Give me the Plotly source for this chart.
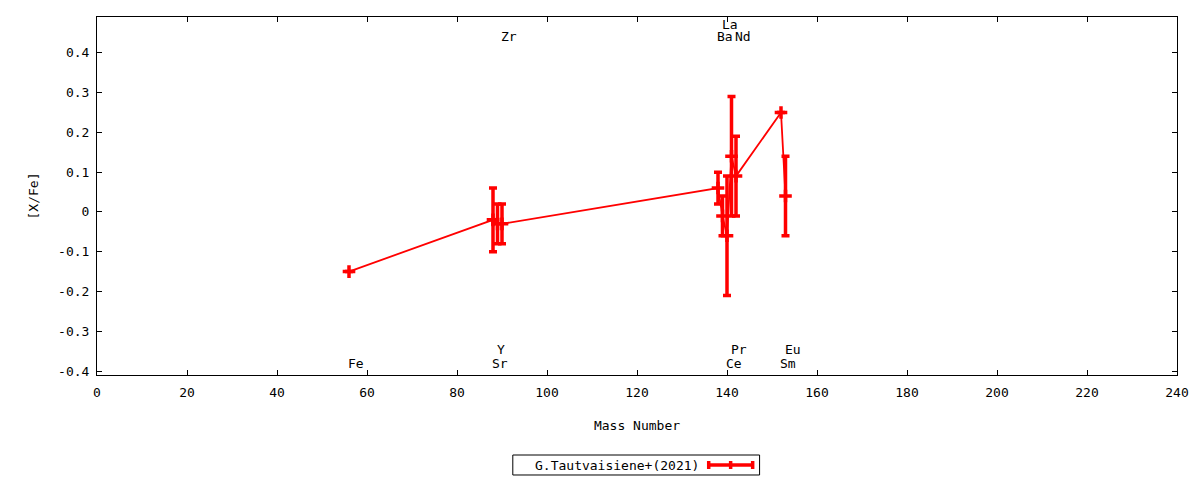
# Abundance ratios [X/Fe] against mass number, G.Tautvaisiene+(2021)

import plotly.graph_objects as go

# Data
elements = ["Fe", "Sr", "Y", "Zr", "Ba", "La", "Ce", "Pr", "Nd", "Sm", "Eu"]
mass_number = [56, 88, 89, 90, 138, 139, 140, 141, 142, 152, 153]
x_fe = [-0.15, -0.02, -0.03, -0.03, 0.06, -0.01, -0.06, 0.14, 0.09, 0.25, 0.04]
x_fe_err = [0.0, 0.08, 0.05, 0.05, 0.04, 0.05, 0.15, 0.15, 0.10, 0.0, 0.10]

# where each element name is written (in [X/Fe] units)
label_level = [-0.38, -0.38, -0.345, 0.44, 0.44, 0.47, -0.38, -0.345, 0.44, -0.38, -0.345]

x_ticks = [0, 20, 40, 60, 80, 100, 120, 140, 160, 180, 200, 220, 240]
y_ticks = [-0.4, -0.3, -0.2, -0.1, 0, 0.1, 0.2, 0.3, 0.4]
y_tick_labels = ["-0.4", "-0.3", "-0.2", "-0.1", "0", "0.1", "0.2", "0.3", "0.4"]

series_name = "G.Tautvaisiene+(2021)"

FONT = "DejaVu Sans Mono"
RED = "#ff0000"

fig = go.Figure()

fig.add_trace(
    go.Scatter(
        x=mass_number,
        y=x_fe,
        mode="lines+markers",
        line=dict(color=RED, width=1.8),
        marker=dict(symbol="cross-thin", size=9, color=RED, line=dict(color=RED, width=3.5)),
        error_y=dict(type="data", array=x_fe_err, visible=True, color=RED, thickness=3.5, width=4),
        name=series_name,
        showlegend=False,
    )
)

# element names, left-aligned at their mass number
for el, m, lv in zip(elements, mass_number, label_level):
    fig.add_annotation(
        x=m, y=lv, text=el, showarrow=False,
        xanchor="left", yanchor="middle", xshift=-3,
        font=dict(family=FONT, size=13, color="black"),
    )

# legend box drawn by hand: text on the left, sample on the right (gnuplot style)
fig.add_shape(type="rect", xref="paper", yref="paper",
              x0=0.3850, x1=0.6135, y0=-0.2793, y1=-0.2235,
              line=dict(color="black", width=1), fillcolor="white")
fig.add_annotation(xref="paper", yref="paper", x=0.5590, y=-0.2514,
                   text=series_name, showarrow=False, xanchor="right", yanchor="middle",
                   font=dict(family=FONT, size=13, color="black"))
fig.add_shape(type="line", xref="paper", yref="paper",
              x0=0.5664, x1=0.6071, y0=-0.2514, y1=-0.2514,
              line=dict(color=RED, width=3.5))
for xp in [0.5664, 0.5867, 0.6071]:
    fig.add_shape(type="line", xref="paper", yref="paper",
                  x0=xp, x1=xp, y0=-0.2625, y1=-0.2403,
                  line=dict(color=RED, width=3.5))

axis_common = dict(
    showline=True, linecolor="black", linewidth=1, mirror="ticks",
    ticks="inside", ticklen=5, tickcolor="black", tickwidth=1,
    showgrid=False, zeroline=False,
    tickfont=dict(family=FONT, size=13, color="black"),
)

fig.update_xaxes(
    range=[0, 240], tickvals=x_ticks, ticklabelstandoff=5,
    title=dict(text="Mass Number", font=dict(family=FONT, size=13, color="black"), standoff=22),
    **axis_common,
)
fig.update_yaxes(
    range=[-0.41, 0.49], tickvals=y_ticks, ticktext=y_tick_labels, ticklabelstandoff=4,
    title=dict(text="[X/Fe]", font=dict(family=FONT, size=13, color="black"), standoff=16),
    **axis_common,
)

# page body adds an 8px margin, so the figure is made 8px smaller on each axis
fig.update_layout(
    width=1192, height=472,
    margin=dict(l=89, r=23, t=9, b=105),
    paper_bgcolor="white", plot_bgcolor="white",
    showlegend=False,
)

fig.write_html("out.html")
